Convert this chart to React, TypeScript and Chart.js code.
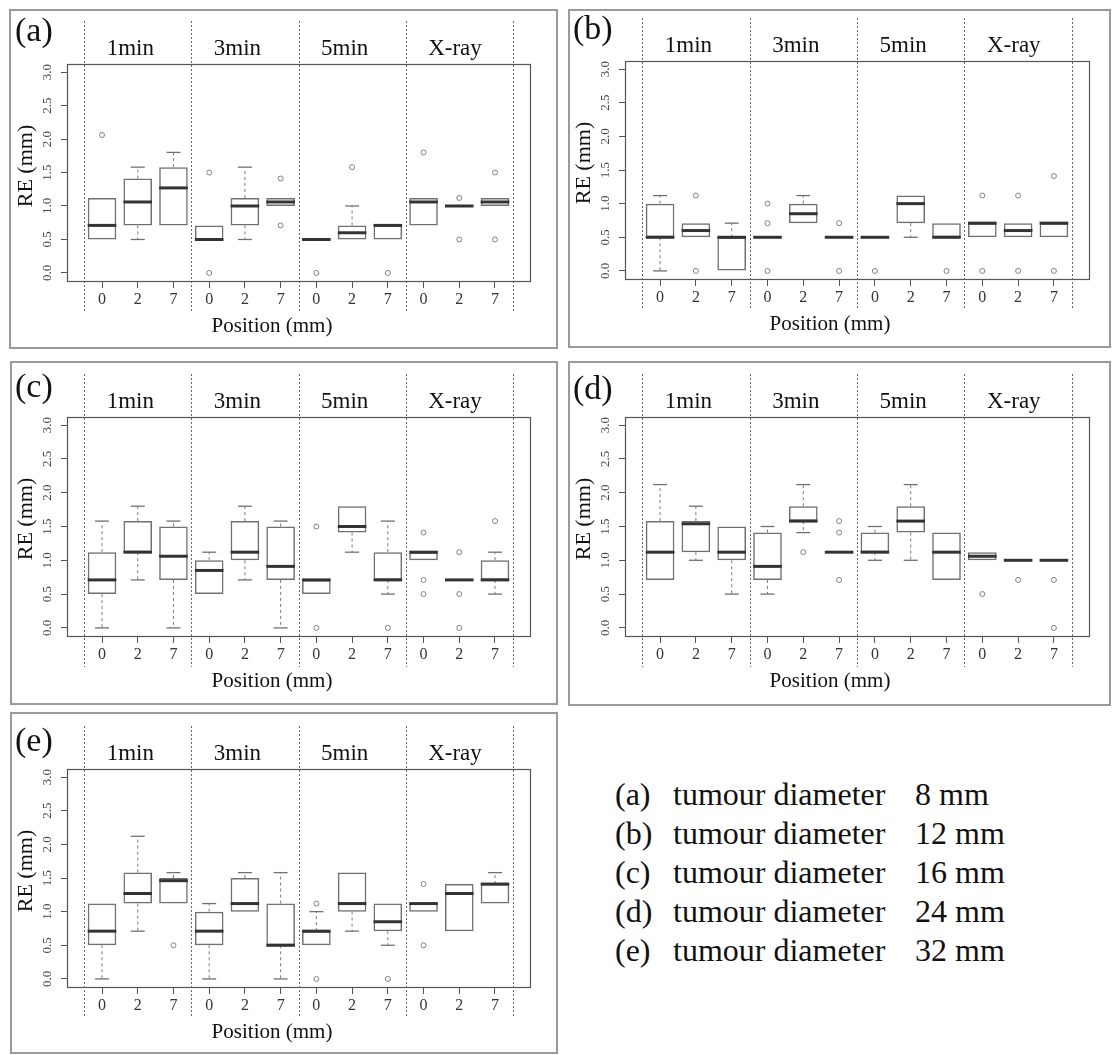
import React, { useEffect, useRef } from "react";
import { Chart, registerables } from "chart.js";

Chart.register(...registerables);
Chart.defaults.font.family = "'Liberation Serif', 'Times New Roman', serif";

// ---------- shared axis content ----------
const positions = [1, 2, 3, 4, 5, 6, 7, 8, 9, 10, 11, 12];
const positionLabels = ["0", "2", "7", "0", "2", "7", "0", "2", "7", "0", "2", "7"];
const groupLabels = ["1min", "3min", "5min", "X-ray"];
const groupStarts = [1, 4, 7, 10];
const separators = [0.5, 3.5, 6.5, 9.5, 12.5];
const yTicks = [0, 0.5, 1, 1.5, 2, 2.5, 3];
const yTickLabels = ["0.0", "0.5", "1.0", "1.5", "2.0", "2.5", "3.0"];
const xTitle = "Position (mm)";
const yTitle = "RE (mm)";

// ---------- (a) tumour diameter 8 mm ----------
const loA = [0.5, 0.5, 0.71, 0.5, 0.5, 1.0, 0.5, 0.5, 0.5, 0.71, 1.0, 1.0];
const q1A = [0.5, 0.71, 0.71, 0.5, 0.71, 1.0, 0.5, 0.5, 0.5, 0.71, 1.0, 1.0];
const medA = [0.71, 1.06, 1.27, 0.5, 1.0, 1.06, 0.5, 0.6, 0.71, 1.06, 1.0, 1.06];
const q3A = [1.12, 1.41, 1.58, 0.71, 1.12, 1.12, 0.5, 0.71, 0.71, 1.12, 1.0, 1.12];
const hiA = [1.12, 1.58, 1.8, 0.71, 1.58, 1.12, 0.5, 1.0, 0.71, 1.12, 1.0, 1.12];
const outXA = [1, 4, 4, 6, 6, 7, 8, 9, 10, 11, 11, 12, 12];
const outYA = [2.06, 1.5, 0, 1.41, 0.71, 0, 1.58, 0, 1.8, 1.12, 0.5, 1.5, 0.5];

// ---------- (b) tumour diameter 12 mm ----------
const loB = [0, 0.5, 0, 0.5, 0.71, 0.5, 0.5, 0.5, 0.5, 0.5, 0.5, 0.5];
const q1B = [0.5, 0.5, 0, 0.5, 0.71, 0.5, 0.5, 0.71, 0.5, 0.5, 0.5, 0.5];
const medB = [0.5, 0.6, 0.5, 0.5, 0.85, 0.5, 0.5, 1.0, 0.5, 0.71, 0.6, 0.71];
const q3B = [1.0, 0.71, 0.5, 0.5, 1.0, 0.5, 0.5, 1.12, 0.71, 0.71, 0.71, 0.71];
const hiB = [1.12, 0.71, 0.71, 0.5, 1.12, 0.5, 0.5, 1.12, 0.71, 0.71, 0.71, 0.71];
const outXB = [2, 2, 4, 4, 4, 6, 6, 7, 9, 10, 10, 11, 11, 12, 12];
const outYB = [1.12, 0, 1.0, 0.71, 0, 0.71, 0, 0, 0, 1.12, 0, 1.12, 0, 1.41, 0];

// ---------- (c) tumour diameter 16 mm ----------
const loC = [0, 0.71, 0, 0.5, 0.71, 0, 0.5, 1.12, 0.5, 1.0, 0.71, 0.5];
const q1C = [0.5, 1.12, 0.71, 0.5, 1.0, 0.71, 0.5, 1.41, 0.71, 1.0, 0.71, 0.71];
const medC = [0.71, 1.12, 1.06, 0.85, 1.12, 0.91, 0.71, 1.5, 0.71, 1.12, 0.71, 0.71];
const q3C = [1.12, 1.58, 1.5, 1.0, 1.58, 1.5, 0.71, 1.8, 1.12, 1.12, 0.71, 1.0];
const hiC = [1.58, 1.8, 1.58, 1.12, 1.8, 1.58, 0.71, 1.8, 1.58, 1.12, 0.71, 1.12];
const outXC = [7, 7, 9, 10, 10, 10, 11, 11, 11, 12];
const outYC = [1.5, 0, 0, 1.41, 0.71, 0.5, 1.12, 0.5, 0, 1.58];

// ---------- (d) tumour diameter 24 mm ----------
const loD = [0.71, 1.0, 0.5, 0.5, 1.41, 1.12, 1.0, 1.0, 0.71, 1.0, 1.0, 1.0];
const q1D = [0.71, 1.12, 1.0, 0.71, 1.58, 1.12, 1.12, 1.41, 0.71, 1.0, 1.0, 1.0];
const medD = [1.12, 1.54, 1.12, 0.91, 1.58, 1.12, 1.12, 1.58, 1.12, 1.06, 1.0, 1.0];
const q3D = [1.58, 1.58, 1.5, 1.41, 1.8, 1.12, 1.41, 1.8, 1.41, 1.12, 1.0, 1.0];
const hiD = [2.12, 1.8, 1.5, 1.5, 2.12, 1.12, 1.5, 2.12, 1.41, 1.12, 1.0, 1.0];
const outXD = [5, 6, 6, 6, 10, 11, 12, 12];
const outYD = [1.12, 1.58, 1.41, 0.71, 0.5, 0.71, 0.71, 0];

// ---------- (e) tumour diameter 32 mm ----------
const loE = [0, 0.71, 1.12, 0, 1.0, 0, 0.5, 0.71, 0.5, 1.0, 0.71, 1.12];
const q1E = [0.5, 1.12, 1.12, 0.5, 1.0, 0.5, 0.5, 1.0, 0.71, 1.0, 0.71, 1.12];
const medE = [0.71, 1.27, 1.46, 0.71, 1.12, 0.5, 0.71, 1.12, 0.85, 1.12, 1.27, 1.41];
const q3E = [1.12, 1.58, 1.5, 1.0, 1.5, 1.12, 0.71, 1.58, 1.12, 1.12, 1.41, 1.41];
const hiE = [1.12, 2.12, 1.58, 1.12, 1.58, 1.58, 1.0, 1.58, 1.12, 1.12, 1.41, 1.58];
const outXE = [3, 7, 7, 9, 10, 10];
const outYE = [0.5, 1.12, 0, 0, 1.41, 0.5];

// ---------- legend text ----------
const legendKeys = ["(a)", "(b)", "(c)", "(d)", "(e)"];
const legendText = ["tumour diameter", "tumour diameter", "tumour diameter", "tumour diameter", "tumour diameter"];
const legendSizes = ["8 mm", "12 mm", "16 mm", "24 mm", "32 mm"];

type PanelData = {
  label: string;
  lo: number[]; q1: number[]; med: number[]; q3: number[]; hi: number[];
  outX: number[]; outY: number[];
  frame: number[]; plot: number[]; labelDy: number;
};

const panels: PanelData[] = [
  { label: "(a)", lo: loA, q1: q1A, med: medA, q3: q3A, hi: hiA, outX: outXA, outY: outYA,
    frame: [9, 9, 558, 349], plot: [67, 64, 530, 281], labelDy: -23 },
  { label: "(b)", lo: loB, q1: q1B, med: medB, q3: q3B, hi: hiB, outX: outXB, outY: outYB,
    frame: [568, 9, 1111, 348], plot: [625, 61, 1089, 279], labelDy: -22 },
  { label: "(c)", lo: loC, q1: q1C, med: medC, q3: q3C, hi: hiC, outX: outXC, outY: outYC,
    frame: [10, 361, 558, 705], plot: [67, 417, 530, 636], labelDy: -20 },
  { label: "(d)", lo: loD, q1: q1D, med: medD, q3: q3D, hi: hiD, outX: outXD, outY: outYD,
    frame: [568, 361, 1111, 706], plot: [625, 417, 1089, 636], labelDy: -18 },
  { label: "(e)", lo: loE, q1: q1E, med: medE, q3: q3E, hi: hiE, outX: outXE, outY: outYE,
    frame: [10, 712, 558, 1054], plot: [67, 769, 530, 987], labelDy: -18 },
];

const SERIF = "'Liberation Serif', 'Times New Roman', serif";

function Panel({ p }: { p: PanelData }) {
  const ref = useRef<HTMLCanvasElement>(null);
  const W = p.frame[2] - p.frame[0];
  const H = p.frame[3] - p.frame[1];

  useEffect(() => {
    const canvas = ref.current;
    if (!canvas) return;
    const padTop = p.plot[1] - p.frame[1];
    const padRight = p.frame[2] - p.plot[2];
    const yW = p.plot[0] - p.frame[0];
    const xH = p.frame[3] - p.plot[3];

    const boxes = positions.map((x, i) => ({ x, y: [p.q1[i], p.q3[i]] }));
    const whiskers: any[] = [];
    positions.forEach((x, i) => {
      whiskers.push({ x, y: p.q3[i] }, { x, y: p.hi[i] }, { x, y: null });
      whiskers.push({ x, y: p.q1[i] }, { x, y: p.lo[i] }, { x, y: null });
    });
    const caps: any[] = [];
    positions.forEach((x, i) => {
      if (p.hi[i] > p.q3[i]) caps.push({ x, y: p.hi[i] });
      if (p.lo[i] < p.q1[i]) caps.push({ x, y: p.lo[i] });
    });
    const medians = positions.map((x, i) => ({ x, y: p.med[i] }));
    const outliers = p.outX.map((x, i) => ({ x, y: p.outY[i] }));

    const decor = {
      id: "decor",
      afterDraw(chart: any) {
        const ctx = chart.ctx;
        const { left, top, right, bottom } = chart.chartArea;
        const xs = chart.scales.x;
        const ys = chart.scales.y;
        ctx.save();
        // outer panel frame
        ctx.strokeStyle = "#9a9a9a";
        ctx.lineWidth = 2;
        ctx.strokeRect(1, 1, W - 2, H - 2);
        // plot box
        ctx.strokeStyle = "#555";
        ctx.lineWidth = 1.2;
        ctx.strokeRect(Math.round(left) + 0.5, Math.round(top) + 0.5, Math.round(right - left), Math.round(bottom - top));
        // separators
        ctx.setLineDash([2, 2]);
        ctx.strokeStyle = "#666";
        ctx.lineWidth = 1;
        separators.forEach((s) => {
          const px = Math.round(xs.getPixelForValue(s)) + 0.5;
          ctx.beginPath();
          ctx.moveTo(px, top - 43);
          ctx.lineTo(px, bottom + 31);
          ctx.stroke();
        });
        ctx.setLineDash([]);
        // group labels
        ctx.fillStyle = "#111";
        ctx.font = `23px ${SERIF}`;
        ctx.textAlign = "left";
        ctx.textBaseline = "alphabetic";
        groupLabels.forEach((g, i) => {
          ctx.fillText(g, xs.getPixelForValue(groupStarts[i] + 0.13), top - 9);
        });
        // panel label
        ctx.font = `34px ${SERIF}`;
        ctx.fillText(p.label, left - 52, top + p.labelDy);
        // y tick labels (rotated, as in R)
        ctx.fillStyle = "#444";
        ctx.font = `13px ${SERIF}`;
        ctx.textAlign = "center";
        ctx.textBaseline = "middle";
        yTicks.forEach((v, i) => {
          ctx.save();
          ctx.translate(left - 19, ys.getPixelForValue(v));
          ctx.rotate(-Math.PI / 2);
          ctx.fillText(yTickLabels[i], 0, 0);
          ctx.restore();
        });
        // axis titles
        ctx.fillStyle = "#111";
        ctx.font = `21px ${SERIF}`;
        ctx.textAlign = "center";
        ctx.textBaseline = "alphabetic";
        ctx.fillText(xTitle, left + 205, bottom + 51);
        ctx.save();
        ctx.translate(left - 41, top + 102);
        ctx.rotate(-Math.PI / 2);
        ctx.font = `22px ${SERIF}`;
        ctx.textBaseline = "middle";
        ctx.fillText(yTitle, 0, 0);
        ctx.restore();
        ctx.restore();
      },
    };

    const chart = new Chart(canvas, {
      type: "bar",
      data: {
        datasets: [
          {
            type: "bar",
            data: boxes as any,
            backgroundColor: "rgba(255,255,255,0)",
            borderColor: "#707070",
            borderWidth: 1.5,
            borderSkipped: false,
            barPercentage: 0.8,
            categoryPercentage: 1,
            grouped: false,
            order: 5,
          } as any,
          {
            type: "line",
            data: whiskers,
            borderColor: "#7a7a7a",
            borderWidth: 1,
            borderDash: [3, 3],
            pointRadius: 0,
            spanGaps: false,
            fill: false,
            tension: 0,
            order: 4,
          } as any,
          {
            type: "scatter",
            data: caps,
            pointStyle: "line",
            pointRadius: 7,
            pointBorderWidth: 1.3,
            borderColor: "#707070",
            pointBorderColor: "#707070",
            order: 3,
          } as any,
          {
            type: "scatter",
            data: outliers,
            pointStyle: "circle",
            pointRadius: 2.5,
            pointBorderWidth: 1,
            borderColor: "#808080",
            pointBorderColor: "#808080",
            backgroundColor: "rgba(0,0,0,0)",
            pointBackgroundColor: "rgba(0,0,0,0)",
            order: 2,
          } as any,
          {
            type: "scatter",
            data: medians,
            pointStyle: "line",
            pointRadius: 14.3,
            pointBorderWidth: 3,
            borderColor: "#333",
            pointBorderColor: "#333",
            order: 1,
          } as any,
        ],
      },
      options: {
        responsive: false,
        animation: false,
        events: [],
        layout: { padding: { top: padTop, right: padRight, left: 0, bottom: 0 } },
        plugins: { legend: { display: false }, tooltip: { enabled: false } },
        scales: {
          x: {
            type: "linear",
            min: 0.02,
            max: 12.98,
            offset: false,
            afterBuildTicks: (s: any) => {
              s.ticks = positions.map((v) => ({ value: v }));
            },
            afterFit: (s: any) => {
              s.height = xH;
            },
            ticks: {
              autoSkip: false,
              maxRotation: 0,
              minRotation: 0,
              padding: 2,
              color: "#333",
              font: { size: 16, family: SERIF },
              callback: (_v: any, i: number) => positionLabels[i],
            },
            grid: { display: true, offset: false, drawOnChartArea: false, drawTicks: true, tickLength: 7, color: "#555", lineWidth: 1 },
            border: { display: false },
          },
          y: {
            type: "linear",
            min: -0.12,
            max: 3.12,
            afterBuildTicks: (s: any) => {
              s.ticks = yTicks.map((v) => ({ value: v }));
            },
            afterFit: (s: any) => {
              s.width = yW;
            },
            ticks: { display: false },
            grid: { display: true, drawOnChartArea: false, drawTicks: true, tickLength: 6, color: "#555", lineWidth: 1 },
            border: { display: false },
          },
        },
      } as any,
      plugins: [decor],
    });
    return () => chart.destroy();
  }, []);

  return (
    <canvas
      ref={ref}
      width={W}
      height={H}
      style={{ position: "absolute", left: p.frame[0], top: p.frame[1], width: W, height: H }}
    />
  );
}

export default function App() {
  return (
    <div style={{ position: "absolute", left: 0, top: 0, width: 1112, height: 1055, background: "#fff", overflow: "hidden" }}>
      {panels.map((p) => (
        <Panel key={p.label} p={p} />
      ))}
      <div style={{ position: "absolute", left: 0, top: 775, fontFamily: SERIF, fontSize: 32, color: "#111" }}>
        {legendKeys.map((k, i) => (
          <div key={k} style={{ position: "absolute", top: i * 39, left: 0, height: 39, lineHeight: "39px", whiteSpace: "nowrap" }}>
            <span style={{ position: "absolute", left: 615 }}>{k}</span>
            <span style={{ position: "absolute", left: 673 }}>{legendText[i]}</span>
            <span style={{ position: "absolute", left: 915 }}>{legendSizes[i]}</span>
          </div>
        ))}
      </div>
    </div>
  );
}
